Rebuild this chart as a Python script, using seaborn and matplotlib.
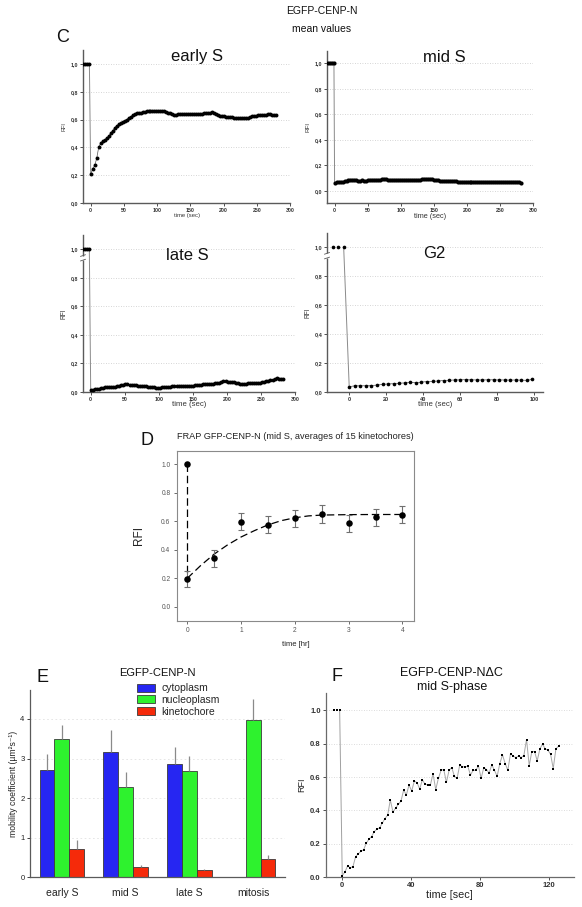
import numpy as np
import pandas as pd
import matplotlib
matplotlib.use("Agg")
import matplotlib.pyplot as plt
import seaborn as sns
from matplotlib.ticker import FuncFormatter
from matplotlib.patches import Patch

# ---------------- DATA ----------------
# Panel C: EGFP-CENP-N mean values (RFI vs time in sec)
EARLY_PRE_T = [-11, -8, -5, -2]
EARLY_PRE_V = [1.0, 1.0, 1.0, 1.0]
EARLY_T = np.arange(0, 282, 3)
EARLY_V = [0.21, 0.245, 0.27, 0.32, 0.40, 0.43, 0.445, 0.455, 0.465, 0.48,
           0.50, 0.52, 0.54, 0.555, 0.565, 0.575, 0.585,
           0.59, 0.60, 0.61, 0.62, 0.63, 0.64, 0.645,
           0.648, 0.65, 0.652, 0.655, 0.658, 0.66, 0.662,
           0.66, 0.66, 0.659, 0.66, 0.662, 0.661, 0.66,
           0.655, 0.65, 0.645, 0.638, 0.635, 0.636, 0.637,
           0.638, 0.64, 0.64, 0.641, 0.64, 0.641, 0.64,
           0.64, 0.641, 0.64, 0.642, 0.643, 0.645, 0.646,
           0.648, 0.65, 0.652, 0.648, 0.64, 0.632, 0.628,
           0.625, 0.623, 0.62, 0.618, 0.617, 0.615, 0.614,
           0.612, 0.613, 0.614, 0.612, 0.613, 0.614, 0.612,
           0.618, 0.622, 0.625, 0.627, 0.63, 0.632, 0.633,
           0.634, 0.636, 0.637, 0.638, 0.635, 0.633, 0.631]

MID_PRE_T = [-10, -7, -4, -1]
MID_PRE_V = [1.0, 1.0, 1.0, 1.0]
MID_T = np.arange(0, 285, 3)
MID_V = [0.063, 0.066, 0.068, 0.07, 0.072, 0.075, 0.079, 0.083, 0.087, 0.086,
         0.083, 0.081, 0.08, 0.08, 0.081, 0.08, 0.08,
         0.081, 0.082, 0.082, 0.083, 0.084, 0.086, 0.087,
         0.089, 0.09, 0.089, 0.088, 0.087, 0.086, 0.086,
         0.085, 0.084, 0.083, 0.082, 0.081, 0.081, 0.082,
         0.083, 0.083, 0.084, 0.085, 0.086, 0.088, 0.089,
         0.09, 0.09, 0.089, 0.089, 0.089, 0.088, 0.085,
         0.082, 0.079, 0.077, 0.076, 0.076, 0.075, 0.075,
         0.075, 0.074, 0.073, 0.072, 0.072, 0.071, 0.07,
         0.07, 0.069, 0.068, 0.068, 0.067, 0.067, 0.067,
         0.067, 0.067, 0.066, 0.067, 0.067, 0.068, 0.068,
         0.068, 0.069, 0.07, 0.07, 0.07, 0.069, 0.068,
         0.068, 0.067, 0.067, 0.066, 0.066, 0.065, 0.065,
         0.063]

LATE_PRE_T = [-11, -8, -5, -2]
LATE_PRE_V = [1.0, 1.0, 1.0, 1.0]
LATE_T = np.arange(0, 285, 3)
LATE_V = [0.012, 0.016, 0.019, 0.022, 0.024, 0.027, 0.03, 0.033, 0.033, 0.032,
          0.034, 0.036, 0.038, 0.04, 0.044, 0.047, 0.052,
          0.058, 0.057, 0.052, 0.05, 0.048, 0.046, 0.045,
          0.044, 0.043, 0.042, 0.04, 0.038, 0.036, 0.034,
          0.032, 0.03, 0.029, 0.03, 0.032, 0.034, 0.036,
          0.037, 0.038, 0.039, 0.04, 0.041, 0.042, 0.044,
          0.044, 0.043, 0.042, 0.042, 0.043, 0.044, 0.046,
          0.048, 0.05, 0.052, 0.055, 0.057, 0.058, 0.058,
          0.059, 0.059, 0.06, 0.062, 0.066, 0.07, 0.074,
          0.075, 0.073, 0.072, 0.072, 0.07, 0.066, 0.06,
          0.055, 0.054, 0.056, 0.059, 0.062, 0.063, 0.063,
          0.062, 0.06, 0.062, 0.065, 0.07, 0.073, 0.075,
          0.078, 0.081, 0.084, 0.088, 0.095, 0.092, 0.09,
          0.088]

G2_PRE_T = [-9, -6, -3]
G2_PRE_V = [1.0, 1.0, 1.0]
G2_T = np.arange(0, 100, 3)
G2_V = [0.038, 0.045, 0.045, 0.045, 0.046, 0.05, 0.054, 0.058, 0.059, 0.062,
        0.065, 0.068, 0.066, 0.07, 0.074, 0.075, 0.078, 0.081, 0.083, 0.085,
        0.086, 0.087, 0.086, 0.085, 0.085, 0.086, 0.086, 0.085, 0.085, 0.084,
        0.085, 0.084, 0.082, 0.089]

# Panel D: FRAP GFP-CENP-N (mid S), time in hr
D_PRE_T = [0]
D_PRE_V = [1.0]
D_T = [0, 0.5, 1, 1.5, 2, 2.5, 3, 3.5, 4]
D_V = [0.195, 0.34, 0.597, 0.577, 0.622, 0.653, 0.585, 0.63, 0.647]
D_ERR = [0.058, 0.06, 0.06, 0.06, 0.06, 0.062, 0.06, 0.06, 0.06]
D_FIT_T = [0, 0.25, 0.5, 0.75, 1.0, 1.25, 1.5, 1.75, 2.0, 2.25, 2.5, 3.0, 3.5, 4.0]
D_FIT_V = [0.20, 0.29, 0.37, 0.435, 0.49, 0.535, 0.575, 0.605, 0.625, 0.638,
           0.644, 0.647, 0.648, 0.648]

# Panel E: mobility coefficients
E_CATS = ["early S", "mid S", "late S", "mitosis"]
E_SERIES = ["cytoplasm", "nucleoplasm", "kinetochore"]
E_CYTO = [2.72, 3.16, 2.86, np.nan]
E_CYTO_ERR = [0.39, 0.56, 0.43, np.nan]
E_NUC = [3.49, 2.29, 2.68, 3.97]
E_NUC_ERR = [0.36, 0.36, 0.39, 0.54]
E_KIN = [0.71, 0.26, 0.19, 0.47]
E_KIN_ERR = [0.22, 0.06, 0.03, 0.10]
E_COLORS = ["#2626f2", "#2ef22e", "#f52a0a"]

# Panel F: EGFP-CENP-N dC mid S-phase
F_PRE_T = [-4.6, -3.1, -1.5]
F_PRE_V = [1.0, 1.0, 1.0]
F_V = [0.008, 0.03, 0.066, 0.056, 0.062, 0.122, 0.139, 0.155, 0.163, 0.203,
       0.227, 0.243, 0.273, 0.287, 0.295, 0.323, 0.351, 0.371, 0.462, 0.39,
       0.414, 0.436, 0.456, 0.522, 0.492, 0.552, 0.516, 0.576, 0.566, 0.528,
       0.584, 0.556, 0.552, 0.552, 0.62, 0.524, 0.592, 0.64, 0.645, 0.568,
       0.64, 0.657, 0.604, 0.592, 0.673, 0.661, 0.661, 0.665, 0.612, 0.64,
       0.64, 0.667, 0.592, 0.657, 0.645, 0.624, 0.673, 0.64, 0.604, 0.681,
       0.733, 0.681, 0.64, 0.741, 0.725, 0.717, 0.725, 0.717, 0.729, 0.825,
       0.669, 0.753, 0.753, 0.697, 0.769, 0.797, 0.769, 0.761, 0.737, 0.651,
       0.769, 0.785]
F_T = np.arange(len(F_V)) * 1.55

# ---------------- FIGURE ----------------
sns.set_theme(style="white")
plt.rcParams["font.family"] = ["Liberation Sans", "DejaVu Sans"]

W, H = 582, 907
fig = plt.figure(figsize=(W / 100, H / 100), dpi=100)


def px_axes(l, t, r, b):
    ax = fig.add_axes([l / W, 1 - b / H, (r - l) / W, (b - t) / H])
    ax._px = (l, t, r, b)
    return ax


def ftext(x, y, s, **kw):
    kw.setdefault("ha", "center")
    kw.setdefault("va", "center")
    fig.text(x / W, 1 - y / H, s, **kw)


def label_px(ax, xlabel, xl_y, xl_size, ylabel, yl_x, yl_size, color="#333333"):
    l, t, r, b = ax._px
    if xlabel is not None:
        ax.set_xlabel(xlabel, fontsize=xl_size, color=color)
        ax.xaxis.label.set_va("center")
        ax.xaxis.set_label_coords(0.5, (b - xl_y) / (b - t))
    if ylabel is not None:
        ax.set_ylabel(ylabel, fontsize=yl_size, color=color)
        ax.yaxis.label.set_va("center")
        ax.yaxis.set_label_coords((yl_x - l) / (r - l), 0.5)


comma = FuncFormatter(lambda v, p: f"{v:.1f}".replace(".", ","))


def frap_c(ax, pre_t, pre_v, t, v, xlim, ylim, xticks, ms, title, title_xy,
           tick_size, xl_y, xl_size, yl_x, yl_size, brk=False):
    sns.lineplot(x=[pre_t[-1], t[0]], y=[pre_v[-1], v[0]], ax=ax, color="#8a8a8a",
                 lw=0.7, estimator=None, sort=False)
    sns.lineplot(x=t, y=v, ax=ax, color="#555555", lw=0.5, estimator=None, sort=False)
    sns.scatterplot(x=np.r_[pre_t, t], y=np.r_[pre_v, v], ax=ax, s=ms, color="black",
                    linewidth=0, legend=False, zorder=3)
    ax.set_xlim(*xlim)
    ax.set_ylim(*ylim)
    ax.set_xticks(xticks)
    ax.set_yticks([0, 0.2, 0.4, 0.6, 0.8, 1.0])
    ax.yaxis.set_major_formatter(comma)
    ax.tick_params(bottom=True, left=True, labelsize=tick_size, length=2, width=0.6,
                   pad=1.5, colors="#333333", direction="out")
    for lab in ax.get_xticklabels() + ax.get_yticklabels():
        lab.set_fontweight("bold")
    for s in ["top", "right"]:
        ax.spines[s].set_visible(False)
    for s in ["left", "bottom"]:
        ax.spines[s].set_color("#5a5a5a")
        ax.spines[s].set_linewidth(1.0)
    ax.yaxis.grid(True, ls=(0, (1, 2)), color="#c8c8c8", lw=0.6)
    ax.set_axisbelow(True)
    label_px(ax, "time (sec)", xl_y, xl_size, "RFI", yl_x, yl_size)
    ftext(title_xy[0], title_xy[1], title, fontsize=12, color="#111111")
    if brk:
        tr = ax.get_yaxis_transform()
        ax.plot([0, 0], [0.925, 0.955], transform=tr, color="white", lw=2.5,
                clip_on=False, zorder=5, solid_capstyle="butt")
        ax.plot([-0.012, 0.012], [0.918, 0.93], transform=tr, color="#5a5a5a", lw=0.6,
                clip_on=False, zorder=6)
        ax.plot([-0.012, 0.012], [0.95, 0.962], transform=tr, color="#5a5a5a", lw=0.6,
                clip_on=False, zorder=6)


# ---- Panel C ----
ftext(321.5, 11, "EGFP-CENP-N", fontsize=7.5, color="#111111")
ftext(321.5, 29, "mean values", fontsize=7.5, color="#111111")
ftext(63, 38, "C", fontsize=13, color="#111111")

ax1 = px_axes(83, 50, 290, 203)
frap_c(ax1, EARLY_PRE_T, EARLY_PRE_V, EARLY_T, EARLY_V, (-11.6, 300), (0, 1.1),
       [0, 50, 100, 150, 200, 250, 300], 8, "early S", (197, 56),
       3.8, 216, 4.2, 64, 4.0)

ax2 = px_axes(327, 50.7, 533, 202.7)
frap_c(ax2, MID_PRE_T, MID_PRE_V, MID_T, MID_V, (-11.5, 300), (-0.094, 1.1),
       [0, 50, 100, 150, 200, 250, 300], 9, "mid S", (444, 57),
       3.8, 216, 5.3, 308, 4.5)

ax3 = px_axes(83, 235, 295, 392)
frap_c(ax3, LATE_PRE_T, LATE_PRE_V, LATE_T, LATE_V, (-11.3, 300), (0, 1.1),
       [0, 50, 100, 150, 200, 250, 300], 8, "late S", (187, 255),
       3.8, 404, 5.6, 63.5, 4.8, brk=True)

ax4 = px_axes(327, 233, 543, 392.3)
frap_c(ax4, G2_PRE_T, G2_PRE_V, G2_T, G2_V, (-12, 104.7), (0, 1.096),
       [0, 20, 40, 60, 80, 100], 7, "G2", (434, 254),
       4.0, 405, 5.6, 307.5, 4.8, brk=True)

# ---- Panel D ----
axd = px_axes(176.7, 450.7, 414.3, 621)
sns.lineplot(x=[D_PRE_T[0], D_T[0]], y=[D_PRE_V[0], D_V[0]], ax=axd, color="black",
             lw=0.9, estimator=None, sort=False)
axd.lines[-1].set_dashes([6, 3])
sns.lineplot(x=D_FIT_T, y=D_FIT_V, ax=axd, color="black", lw=0.9, estimator=None,
             sort=False)
axd.lines[-1].set_dashes([6, 3])
axd.errorbar(D_T, D_V, yerr=D_ERR, fmt="none", ecolor="#707070", elinewidth=0.8,
             capsize=2, capthick=0.8, zorder=2)
sns.scatterplot(x=np.r_[D_PRE_T, D_T], y=np.r_[D_PRE_V, D_V], ax=axd, s=22,
                color="black", linewidth=0, legend=False, zorder=3)
axd.set_xlim(-0.197, 4.22)
axd.set_ylim(-0.1, 1.096)
axd.set_xticks([0, 1, 2, 3, 4])
axd.set_yticks([0, 0.2, 0.4, 0.6, 0.8, 1.0])
axd.yaxis.set_major_formatter(FuncFormatter(lambda v, p: f"{v:.1f}"))
axd.tick_params(bottom=True, left=True, labelsize=4.8, length=2, width=0.6, pad=2.5,
                colors="#555555", direction="out")
for s in axd.spines.values():
    s.set_color("#8a8a8a")
    s.set_linewidth(0.8)
label_px(axd, "time [hr]", 644, 5.5, "RFI", 139, 8.5, color="#222222")
ftext(295, 436.7, "FRAP GFP-CENP-N (mid S, averages of 15 kinetochores)", fontsize=6.6,
      color="#222222")
ftext(146.7, 440.7, "D", fontsize=13, color="#111111")

# ---- Panel E ----
axe = px_axes(30, 690, 285, 877.3)
rows = []
errs = {}
for ser, vals, ers in [("cytoplasm", E_CYTO, E_CYTO_ERR),
                       ("nucleoplasm", E_NUC, E_NUC_ERR),
                       ("kinetochore", E_KIN, E_KIN_ERR)]:
    for c, v, e in zip(E_CATS, vals, ers):
        if not np.isnan(v):
            rows.append({"phase": c, "series": ser, "value": v, "err": e})
df = pd.DataFrame(rows)
sns.barplot(data=df, x="phase", y="value", hue="series", order=E_CATS,
            hue_order=E_SERIES, palette=E_COLORS, width=0.7, errorbar=None,
            edgecolor="#3a3a3a", linewidth=0.6, saturation=1, ax=axe, legend=False)
for ser, cont in zip(E_SERIES, axe.containers):
    sub = df[df["series"] == ser]
    for bar, e in zip(cont, sub["err"]):
        axe.errorbar(bar.get_x() + bar.get_width() / 2, bar.get_height(),
                     yerr=[[0], [e]], fmt="none", ecolor="#8a8a8a", elinewidth=0.9,
                     capsize=0, zorder=1)
axe.set_xlim(-0.5, 3.5)
axe.set_ylim(0, 4.73)
axe.set_yticks([0, 1, 2, 3, 4])
axe.tick_params(left=True, bottom=False, labelsize=5.5, length=2, width=0.6, pad=2,
                colors="#222222")
axe.tick_params(axis="x", labelsize=7.5, pad=6)
for s in ["top", "right"]:
    axe.spines[s].set_visible(False)
for s in ["left", "bottom"]:
    axe.spines[s].set_color("#5a5a5a")
    axe.spines[s].set_linewidth(0.9)
axe.yaxis.grid(True, ls=(0, (2, 3)), color="#e2e2e2", lw=0.6)
axe.set_axisbelow(True)
axe.set_xlabel("")
label_px(axe, None, None, None, "mobility coefficient (µm²s⁻¹)", 14, 6.2,
         color="#222222")
handles = [Patch(facecolor=c, edgecolor="#3a3a3a", linewidth=0.6, label=s)
           for c, s in zip(E_COLORS, E_SERIES)]
axe.legend(handles=handles, loc="upper left", bbox_to_anchor=(0.42, 1.035),
           frameon=False, fontsize=7.5, handlelength=1.75, handleheight=0.8,
           handletextpad=0.6, labelspacing=0.15, borderpad=0, borderaxespad=0)
ftext(157, 673, "EGFP-CENP-N", fontsize=8, color="#111111")
ftext(43, 677, "E", fontsize=13, color="#111111")

# ---- Panel F ----
axf = px_axes(325.7, 693, 574, 877)
sns.lineplot(x=[F_PRE_T[-1], F_T[0]], y=[F_PRE_V[-1], F_V[0]], ax=axf, color="#a0a0a0",
             lw=0.7, estimator=None, sort=False)
sns.lineplot(x=F_T, y=F_V, ax=axf, color="#a8a8a8", lw=0.7, estimator=None, sort=False)
sns.scatterplot(x=np.r_[F_PRE_T, F_T], y=np.r_[F_PRE_V, F_V], ax=axf, s=4, marker="s",
                color="black", linewidth=0, legend=False, zorder=3)
axf.set_xlim(-9.6, 134.5)
axf.set_ylim(0, 1.104)
axf.set_xticks([0, 40, 80, 120])
axf.set_yticks([0, 0.2, 0.4, 0.6, 0.8, 1.0])
axf.yaxis.set_major_formatter(FuncFormatter(lambda v, p: f"{v:.1f}"))
axf.tick_params(bottom=True, left=True, labelsize=5.5, length=2, width=0.6, pad=1.5,
                colors="#333333", direction="out")
for lab in axf.get_xticklabels() + axf.get_yticklabels():
    lab.set_fontweight("bold")
for s in ["top", "right"]:
    axf.spines[s].set_visible(False)
for s in ["left", "bottom"]:
    axf.spines[s].set_color("#6a6a6a")
    axf.spines[s].set_linewidth(0.9)
axf.yaxis.grid(True, ls=(0, (1, 2)), color="#d0d0d0", lw=0.6)
axf.set_axisbelow(True)
label_px(axf, "time [sec]", 895, 7.8, "RFI", 301.7, 6.5, color="#222222")
ftext(451.7, 673, "EGFP-CENP-NΔC", fontsize=9, color="#111111")
ftext(451.7, 687, "mid S-phase", fontsize=9, color="#111111")
ftext(336.7, 676.7, "F", fontsize=13, color="#111111")

fig.savefig("out.png", dpi=100)
